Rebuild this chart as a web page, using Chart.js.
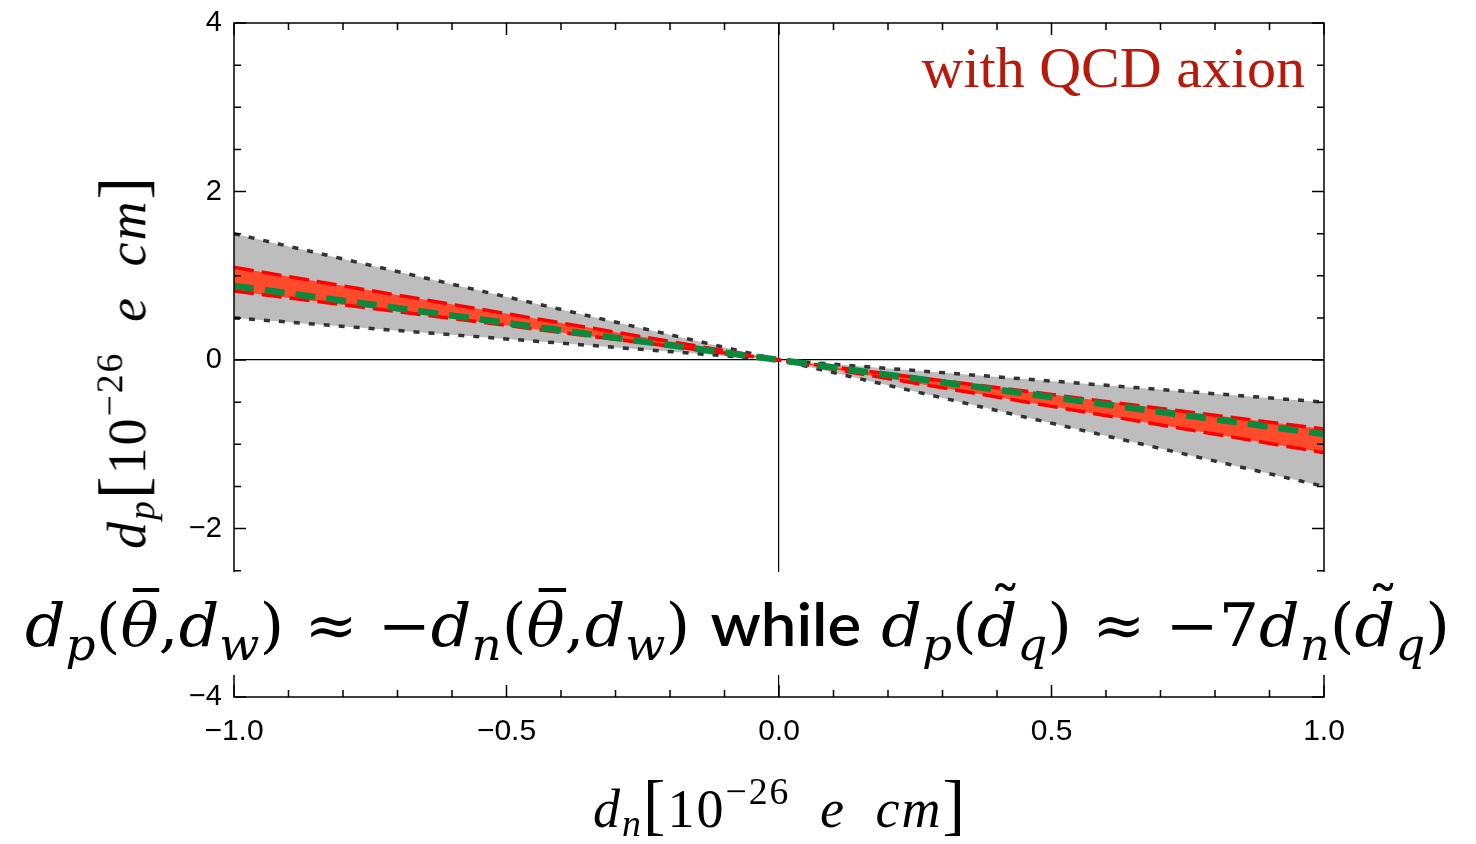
<!DOCTYPE html>
<html>
<head>
<meta charset="utf-8">
<script src="https://cdn.jsdelivr.net/npm/chart.js@4.4.1/dist/chart.umd.min.js"></script>
<style>
  body { margin: 0; background: #fff; }
  #wrap { position: relative; width: 1476px; height: 844px; overflow: hidden; }
  canvas { position: absolute; left: 0; top: 0; }
  .ser { font-family: "Liberation Serif", serif; color: #000; position: absolute; white-space: nowrap; letter-spacing: 2px; }
  .ser i { font-style: italic; }
  .ser sub { font-size: 0.7em; vertical-align: -0.25em; }
  .ser sup { font-size: 0.7em; vertical-align: 0.6em; }
  .br { font-size: 1.25em; font-weight: 300; }
  #xtitle { font-size: 54px; left: 593px; top: 766px; word-spacing: 14px; }
  #ytitle { font-size: 54px; left: 124px; top: 362px; word-spacing: 14px; transform: translate(-50%, -50%) rotate(-90deg); }
  #qcd { font-family: "Liberation Serif", serif; color: #b8190b; font-size: 58px; position: absolute; right: 171px; top: 34px; white-space: nowrap; }
  #formula { position: absolute; left: 0; top: 572px; width: 1476px; height: 103px; background: #fff; }
  #fline { position: absolute; left: 25px; top: 0; font-family: "DejaVu Serif", serif; font-size: 60px; line-height: 103px;
           white-space: nowrap; transform-origin: 0 0; }
  #fline i { font-style: italic; }
  #fline sub { font-size: 0.74em; vertical-align: -0.32em; line-height: 0; }
  #fline .sans { font-family: "Lato", "Noto Sans", sans-serif; font-weight: 600; }
  .acc { position: relative; display: inline-block; line-height: 1; }
  .bar::before { content: ""; position: absolute; left: 0.2em; width: 0.42em; top: -0.12em; border-top: 4px solid #000; }
  .tl::before { content: "\02DC"; position: absolute; left: 0.2em; top: -0.28em; font-style: normal; font-size: 1em; }
</style>
</head>
<body>
<div id="wrap">
  <canvas id="chart" width="1476" height="844"></canvas>
  <div id="qcd">with QCD axion</div>
  <div id="formula"><span id="fline"><i>d</i><sub><i>p</i></sub>(<i class="acc bar">θ</i>,<i>d</i><sub><i>w</i></sub>) ≈ −<i>d</i><sub><i>n</i></sub>(<i class="acc bar">θ</i>,<i>d</i><sub><i>w</i></sub>) <span class="sans">while</span> <i>d</i><sub><i>p</i></sub>(<i class="acc tl">d</i><sub><i>q</i></sub>) ≈ −7<i>d</i><sub><i>n</i></sub>(<i class="acc tl">d</i><sub><i>q</i></sub>)</span></div>
  <div id="xtitle" class="ser"><i>d</i><sub><i>n</i></sub><span class="br">[</span>10<sup>−26</sup> <i>e</i> <i>cm</i><span class="br">]</span></div>
  <div id="ytitle" class="ser"><i>d</i><sub><i>p</i></sub><span class="br">[</span>10<sup>−26</sup> <i>e</i> <i>cm</i><span class="br">]</span></div>
</div>
<script>
// d_n values where the band edges are sampled
const dn = [-1, 0, 1];

// grey band (dotted edges)
const greyUpper = [1.5, 0, -0.5];
const greyLower = [0.5, 0, -1.5];

// red band (dashed edges)
const redUpper = [1.1, 0, -0.82];
const redLower = [0.82, 0, -1.1];

// green central line
const greenLine = [0.88, 0, -0.88];

// tick labels
const xTickLabels = [-1, -0.5, 0, 0.5, 1];
const yTickLabels = [-4, -2, 0, 2, 4];

const pts = (ys) => dn.map((x, i) => ({ x: x, y: ys[i] }));
const minus = (s) => s.replace("-", "\u2212");

// stretch the formula line to the width it has in the picture
const fline = document.getElementById("fline");
const fw = fline.getBoundingClientRect().width;
fline.style.transform = "scaleX(" + (1425 / fw) + ")";

// frame on all four sides with inward ticks
const frameTicks = {
  id: "frameTicks",
  afterDraw(chart) {
    const { ctx, chartArea: a, scales: { x, y } } = chart;
    ctx.save();
    ctx.strokeStyle = "#000";
    ctx.lineWidth = 1.5;
    ctx.strokeRect(a.left, a.top, a.right - a.left, a.bottom - a.top);
    ctx.beginPath();
    for (let i = -10; i <= 10; i++) {
      const px = x.getPixelForValue(i / 10);
      const len = i % 5 === 0 ? 12 : 7;
      ctx.moveTo(px, a.bottom); ctx.lineTo(px, a.bottom - len);
      ctx.moveTo(px, a.top); ctx.lineTo(px, a.top + len);
    }
    for (let i = -8; i <= 8; i++) {
      const py = y.getPixelForValue(i / 2);
      const len = i % 4 === 0 ? 12 : 7;
      ctx.moveTo(a.left, py); ctx.lineTo(a.left + len, py);
      ctx.moveTo(a.right, py); ctx.lineTo(a.right - len, py);
    }
    ctx.stroke();
    ctx.restore();
  }
};

new Chart(document.getElementById("chart"), {
  type: "scatter",
  data: {
    datasets: [
      { data: pts(greyUpper), showLine: true, fill: "+1", backgroundColor: "#bdbdbd",
        borderColor: "#333333", borderWidth: 3.5, borderDash: [6, 9], pointRadius: 0, order: 5 },
      { data: pts(greyLower), showLine: true, fill: false,
        borderColor: "#333333", borderWidth: 3.5, borderDash: [6, 9], pointRadius: 0, order: 4 },
      { data: pts(redUpper), showLine: true, fill: "+1", backgroundColor: "#ff4b2b",
        borderColor: "#ff0000", borderWidth: 3.5, borderDash: [20, 8], pointRadius: 0, order: 3 },
      { data: pts(redLower), showLine: true, fill: false,
        borderColor: "#ff0000", borderWidth: 3.5, borderDash: [20, 8], pointRadius: 0, order: 2 },
      { data: pts(greenLine), showLine: true, fill: false,
        borderColor: "#0b8a3e", borderWidth: 6.5, borderDash: [20, 11], pointRadius: 0, order: 1 }
    ]
  },
  options: {
    responsive: false,
    animation: false,
    layout: { padding: { left: 0, right: 152, top: 23, bottom: 0 } },
    plugins: { legend: { display: false }, tooltip: { enabled: false } },
    scales: {
      x: {
        type: "linear", min: -1, max: 1,
        afterBuildTicks: (s) => { s.ticks = xTickLabels.map((v) => ({ value: v })); },
        afterFit: (s) => { s.height = 147; s.paddingLeft = 0; s.paddingRight = 0; },
        border: { display: false },
        grid: { drawTicks: false, lineWidth: 1.2,
                color: (c) => (c.tick && c.tick.value === 0 ? "#000" : "rgba(0,0,0,0)") },
        ticks: { padding: 17, color: "#000", font: { family: "Liberation Sans", size: 30 },
                 callback: (v) => minus(Number(v).toFixed(1)) }
      },
      y: {
        type: "linear", min: -4, max: 4,
        afterBuildTicks: (s) => { s.ticks = yTickLabels.map((v) => ({ value: v })); },
        afterFit: (s) => { s.width = 234; s.paddingTop = 0; s.paddingBottom = 0; },
        border: { display: false },
        grid: { drawTicks: false, lineWidth: 1.2,
                color: (c) => (c.tick && c.tick.value === 0 ? "#000" : "rgba(0,0,0,0)") },
        ticks: { padding: 12, color: "#000", font: { family: "Liberation Sans", size: 29 },
                 callback: (v) => minus(String(v)) }
      }
    }
  },
  plugins: [frameTicks]
});
</script>
</body>
</html>
